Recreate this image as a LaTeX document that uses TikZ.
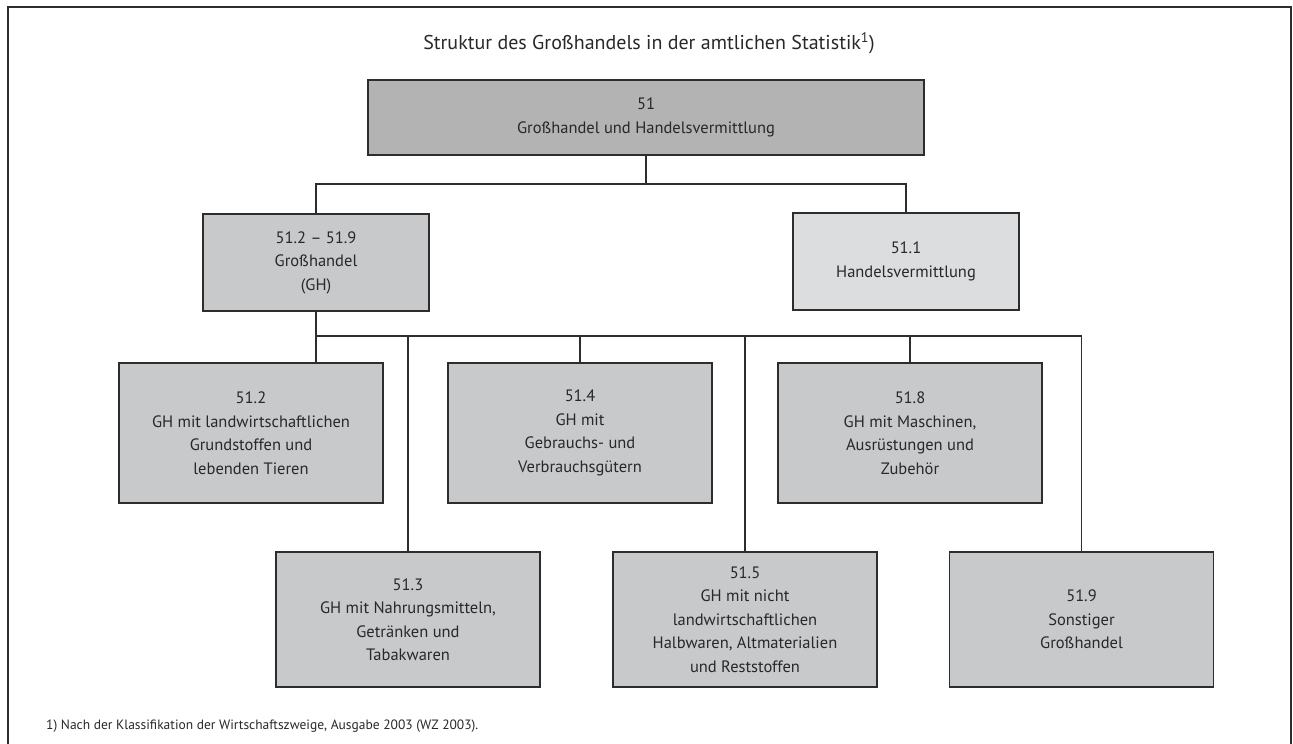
\documentclass[tikz,border=0pt]{standalone}
\usepackage{fontspec}
\setmainfont{PT Sans}
\usepackage{xcolor}
\usetikzlibrary{shapes,arrows,positioning,calc}
\definecolor{boxline}{RGB}{45, 45, 45}
\definecolor{textdark}{RGB}{40, 40, 40}
\definecolor{rootfill}{RGB}{179, 179, 180}
\definecolor{ghfill}{RGB}{200, 201, 203}
\definecolor{hvfill}{RGB}{220, 221, 223}
\tikzset{
    orgbox/.style={draw=boxline, line width=1.4pt, fill=ghfill, text=textdark, inner sep=0pt,
        align=center, font=\fontsize{16.5}{23.5}\selectfont},
    link/.style={draw=boxline, line width=1.1pt}
}

\begin{document}
\begin{tikzpicture}[x=1pt, y=-1pt]
    \useasboundingbox (0,0) rectangle (1293,744);
    \draw[boxline, line width=1.6pt] (8,744) -- (8,7) -- (1291,7) -- (1291,744);
    \node[text=textdark, font=\fontsize{20}{24}\selectfont] (title) at (649,43) {Struktur des Großhandels in der amtlichen Statistik\textsuperscript{1})};
    \node[orgbox, fill=rootfill, minimum width=556pt, minimum height=75pt] (root) at (646,117.5) {51\\Großhandel und Handelsvermittlung};
    \node[orgbox, minimum width=226pt, minimum height=97pt] (gh) at (316,262.5) {51.2 -- 51.9\\Großhandel\\(GH)};
    \node[orgbox, fill=hvfill, minimum width=226pt, minimum height=97pt] (hv) at (906,261.5) {51.1\\Handelsvermittlung};
    \node[orgbox, minimum width=264pt, minimum height=140pt] (n512) at (251,433) {51.2\\GH mit landwirtschaftlichen\\Grundstoffen und\\lebenden Tieren};
    \node[orgbox, minimum width=264pt, minimum height=140pt] (n514) at (580,433) {51.4\\GH mit\\Gebrauchs- und\\Verbrauchsgütern};
    \node[orgbox, minimum width=264pt, minimum height=140pt] (n518) at (910,433) {51.8\\GH mit Maschinen,\\Ausrüstungen und\\Zubehör};
    \node[orgbox, minimum width=264pt, minimum height=135pt] (n513) at (408,619.5) {51.3\\GH mit Nahrungsmitteln,\\Getränken und\\Tabakwaren};
    \node[orgbox, minimum width=264pt, minimum height=135pt] (n515) at (745,619.5) {51.5\\GH mit nicht\\landwirtschaftlichen\\Halbwaren, Altmaterialien\\und Reststoffen};
    \node[orgbox, minimum width=264pt, minimum height=135pt] (n519) at (1081.5,619.5) {51.9\\Sonstiger\\Großhandel};
    \node[text=textdark, font=\fontsize{13.5}{15}\selectfont, anchor=west, inner sep=0pt] (note) at (46,726) {1) Nach der Klassifikation der Wirtschaftszweige, Ausgabe 2003 (WZ 2003).};
    \coordinate (bus1) at (root.south |- 0,184);
    \coordinate (bus2) at (gh.south |- 0,336);
    \draw[link] (root.south) -- (bus1);
    \draw[link] (gh.north) -- (gh.north |- bus1) -| (hv.north);
    \draw[link] (gh.south) -- (gh.south |- n512.north);
    \draw[link] (bus2) -| (n519.north);
    \draw[link] (n513.north |- bus2) -- (n513.north);
    \draw[link] (n514.north |- bus2) -- (n514.north);
    \draw[link] (n515.north |- bus2) -- (n515.north);
    \draw[link] (n518.north |- bus2) -- (n518.north);
\end{tikzpicture}
\end{document}
